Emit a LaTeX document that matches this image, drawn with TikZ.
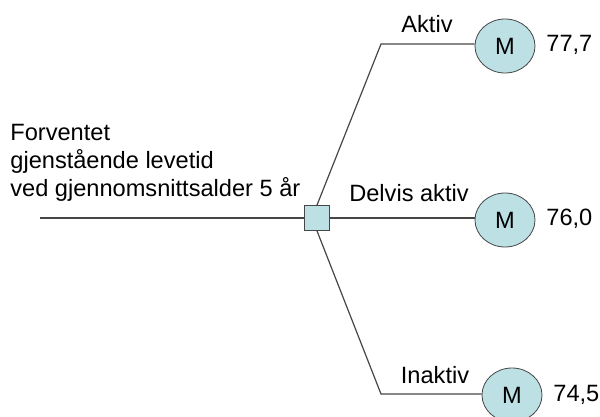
\documentclass[tikz,border=0pt]{standalone}
\usepackage{fontspec}
\setmainfont{Liberation Sans}
\usetikzlibrary{shapes.geometric}
\definecolor{nodefill}{RGB}{188,224,228}
\definecolor{edge}{RGB}{70,70,70}
\begin{document}
\begin{tikzpicture}[x=0.5pt,y=-0.5pt,
  every node/.style={font=\fontsize{11.8}{14}\selectfont},
  chance/.style={ellipse,draw=edge,fill=nodefill,minimum width=30pt,minimum height=27pt,inner sep=0pt},
  decision/.style={rectangle,draw=edge,fill=nodefill,minimum size=12.5pt,inner sep=0pt},
  branch/.style={draw=edge,line width=0.6pt}]
\useasboundingbox (0,0) rectangle (600,417);
\node[decision] (sq) at (317,218) {};
\node[chance] (e1) at (505,46) {M};
\node[chance] (e2) at (505,220) {M};
\node[chance] (e3) at (512,395) {M};
\coordinate (start) at (40,218);
\coordinate (c1) at (381,44);
\coordinate (c3) at (381,394);
\draw[branch] (start) -- (sq.west);
\draw[branch] (sq.north) -- (c1) -- (e1.west |- c1);
\draw[branch] (sq.east) -- (e2.west |- sq.east);
\draw[branch] (sq.south) -- (c3) -- (e3.west |- c3);
\node[anchor=west,align=left,inner sep=0pt] (title) at (10,163) {Forventet\\gjenstående levetid\\ved gjennomsnittsalder 5 år};
\node (l1) at (427,24) {Aktiv};
\node (l2) at (409,193) {Delvis aktiv};
\node (l3) at (435,375) {Inaktiv};
\node[anchor=west,inner sep=0pt] (v1) at (546,45) {77,7};
\node[anchor=west,inner sep=0pt] (v2) at (546,219) {76,0};
\node[anchor=west,inner sep=0pt] (v3) at (553,395) {74,5};
\end{tikzpicture}
\end{document}
